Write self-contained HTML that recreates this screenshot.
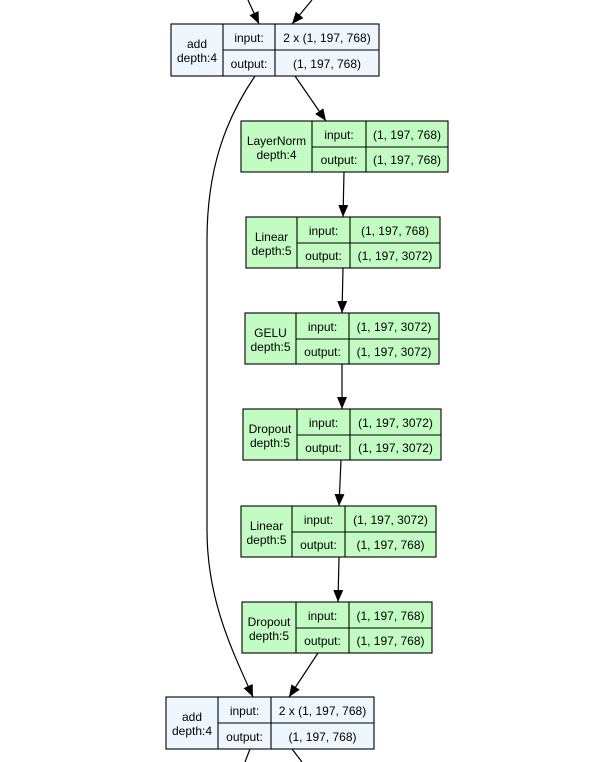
<!DOCTYPE html>
<html><head><meta charset="utf-8"><style>
html,body{margin:0;padding:0;background:#fff;}
svg{display:block;}
text{font-family:"Liberation Sans",Arial,sans-serif;font-size:12px;fill:#000;}
</style></head><body>
<svg width="609" height="762" viewBox="0 0 609 762" xmlns="http://www.w3.org/2000/svg">
<defs>
<marker id="a" markerWidth="12" markerHeight="10" refX="12" refY="5" orient="auto" markerUnits="userSpaceOnUse">
<path d="M0,0 L12,5 L0,10 z" fill="#000"/>
</marker>
</defs>
<g stroke="#000" stroke-width="1.2" fill="none">
<path d="M248,0 L259,24" marker-end="url(#a)"/>
<path d="M312,0 L292,24" marker-end="url(#a)"/>
<path d="M295,76 L326,121" marker-end="url(#a)"/>
<path d="M255,76 C225,120 207,170 207,240 L207,530 C207,600 232,650 253,697" marker-end="url(#a)"/>
<path d="M344,172 L343,217" marker-end="url(#a)"/>
<path d="M343,268 L342,313" marker-end="url(#a)"/>
<path d="M342,364 L342,409" marker-end="url(#a)"/>
<path d="M341,460 L339,506" marker-end="url(#a)"/>
<path d="M339,557 L338,602" marker-end="url(#a)"/>
<path d="M318,653 L289,697" marker-end="url(#a)"/>
<path d="M250,749 L245,762"/>
<path d="M292,749 L302,762"/>
</g>

<!-- top add -->
<g stroke="#000" stroke-width="1.1">
<rect x="171" y="24" width="208" height="52" fill="#eef6fe"/>
<line x1="223" y1="24" x2="223" y2="76"/><line x1="275" y1="24" x2="275" y2="76"/><line x1="223" y1="50" x2="379" y2="50"/>
</g>
<text x="197" y="48" text-anchor="middle">add</text><text x="197" y="62" text-anchor="middle">depth:4</text>
<text x="249" y="42" text-anchor="middle">input:</text><text x="249" y="68" text-anchor="middle">output:</text>
<text x="327" y="42" text-anchor="middle">2 x (1, 197, 768)</text><text x="327" y="68" text-anchor="middle">(1, 197, 768)</text>

<!-- LayerNorm -->
<g stroke="#000" stroke-width="1.1">
<rect x="241" y="121" width="207" height="51" fill="#c2fcc2"/>
<line x1="312" y1="121" x2="312" y2="172"/><line x1="366" y1="121" x2="366" y2="172"/><line x1="312" y1="147" x2="448" y2="147"/>
</g>
<text x="276.5" y="145" text-anchor="middle">LayerNorm</text><text x="276.5" y="159" text-anchor="middle">depth:4</text>
<text x="339" y="139" text-anchor="middle">input:</text><text x="339" y="164" text-anchor="middle">output:</text>
<text x="407" y="139" text-anchor="middle">(1, 197, 768)</text><text x="407" y="164" text-anchor="middle">(1, 197, 768)</text>

<!-- Linear 1 -->
<g stroke="#000" stroke-width="1.1">
<rect x="246" y="217" width="194" height="51" fill="#c2fcc2"/>
<line x1="297" y1="217" x2="297" y2="268"/><line x1="350" y1="217" x2="350" y2="268"/><line x1="297" y1="243" x2="440" y2="243"/>
</g>
<text x="271.5" y="241" text-anchor="middle">Linear</text><text x="271.5" y="255" text-anchor="middle">depth:5</text>
<text x="323.5" y="235" text-anchor="middle">input:</text><text x="323.5" y="260" text-anchor="middle">output:</text>
<text x="395" y="235" text-anchor="middle">(1, 197, 768)</text><text x="395" y="260" text-anchor="middle">(1, 197, 3072)</text>

<!-- GELU -->
<g stroke="#000" stroke-width="1.1">
<rect x="245" y="313" width="194" height="51" fill="#c2fcc2"/>
<line x1="296" y1="313" x2="296" y2="364"/><line x1="349" y1="313" x2="349" y2="364"/><line x1="296" y1="339" x2="439" y2="339"/>
</g>
<text x="270.5" y="337" text-anchor="middle">GELU</text><text x="270.5" y="351" text-anchor="middle">depth:5</text>
<text x="322.5" y="331" text-anchor="middle">input:</text><text x="322.5" y="356" text-anchor="middle">output:</text>
<text x="394" y="331" text-anchor="middle">(1, 197, 3072)</text><text x="394" y="356" text-anchor="middle">(1, 197, 3072)</text>

<!-- Dropout 1 -->
<g stroke="#000" stroke-width="1.1">
<rect x="243" y="409" width="198" height="51" fill="#c2fcc2"/>
<line x1="297" y1="409" x2="297" y2="460"/><line x1="350" y1="409" x2="350" y2="460"/><line x1="297" y1="435" x2="441" y2="435"/>
</g>
<text x="270" y="433" text-anchor="middle">Dropout</text><text x="270" y="447" text-anchor="middle">depth:5</text>
<text x="323.5" y="427" text-anchor="middle">input:</text><text x="323.5" y="452" text-anchor="middle">output:</text>
<text x="395.5" y="427" text-anchor="middle">(1, 197, 3072)</text><text x="395.5" y="452" text-anchor="middle">(1, 197, 3072)</text>

<!-- Linear 2 -->
<g stroke="#000" stroke-width="1.1">
<rect x="241" y="506" width="195" height="51" fill="#c2fcc2"/>
<line x1="292" y1="506" x2="292" y2="557"/><line x1="345" y1="506" x2="345" y2="557"/><line x1="292" y1="532" x2="436" y2="532"/>
</g>
<text x="266.5" y="530" text-anchor="middle">Linear</text><text x="266.5" y="544" text-anchor="middle">depth:5</text>
<text x="318.5" y="524" text-anchor="middle">input:</text><text x="318.5" y="549" text-anchor="middle">output:</text>
<text x="390.5" y="524" text-anchor="middle">(1, 197, 3072)</text><text x="390.5" y="549" text-anchor="middle">(1, 197, 768)</text>

<!-- Dropout 2 -->
<g stroke="#000" stroke-width="1.1">
<rect x="242" y="602" width="190" height="51" fill="#c2fcc2"/>
<line x1="296" y1="602" x2="296" y2="653"/><line x1="349" y1="602" x2="349" y2="653"/><line x1="296" y1="628" x2="432" y2="628"/>
</g>
<text x="269" y="626" text-anchor="middle">Dropout</text><text x="269" y="640" text-anchor="middle">depth:5</text>
<text x="322.5" y="620" text-anchor="middle">input:</text><text x="322.5" y="645" text-anchor="middle">output:</text>
<text x="390.5" y="620" text-anchor="middle">(1, 197, 768)</text><text x="390.5" y="645" text-anchor="middle">(1, 197, 768)</text>

<!-- bottom add -->
<g stroke="#000" stroke-width="1.1">
<rect x="166" y="697" width="208" height="52" fill="#eef6fe"/>
<line x1="218" y1="697" x2="218" y2="749"/><line x1="271" y1="697" x2="271" y2="749"/><line x1="218" y1="723" x2="374" y2="723"/>
</g>
<text x="192" y="721" text-anchor="middle">add</text><text x="192" y="735" text-anchor="middle">depth:4</text>
<text x="244.5" y="715" text-anchor="middle">input:</text><text x="244.5" y="741" text-anchor="middle">output:</text>
<text x="322.5" y="715" text-anchor="middle">2 x (1, 197, 768)</text><text x="322.5" y="741" text-anchor="middle">(1, 197, 768)</text>
</svg>
</body></html>
